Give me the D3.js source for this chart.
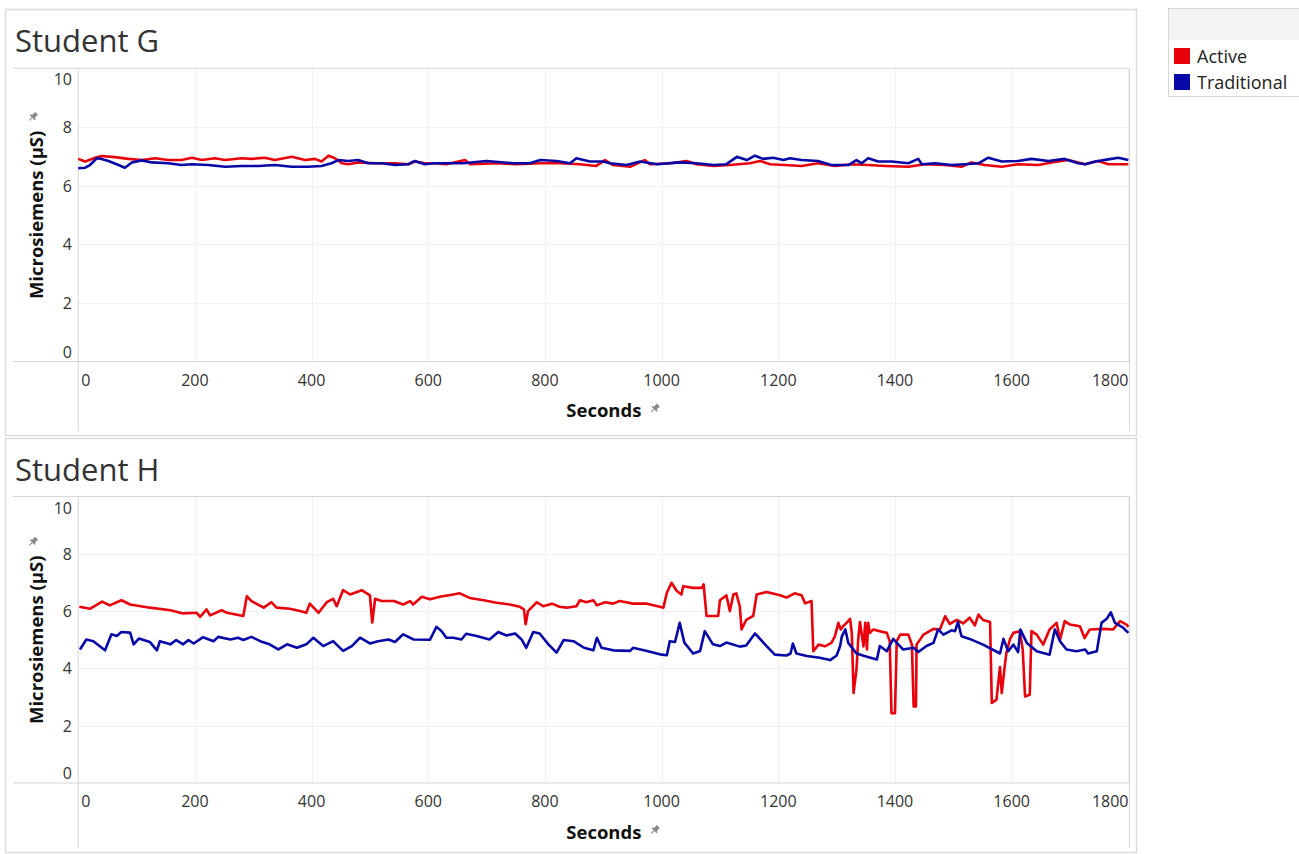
<!DOCTYPE html>
<html>
<head>
<meta charset="utf-8">
<title>Student G / Student H</title>
<script src="https://d3js.org/d3.v7.min.js"></script>
<style>
	*{ margin:0; padding:0; }
	body { background:#fff; width:1299px; height:854px; overflow:hidden; }
	svg text { font-family:"Open Sans","Noto Sans",sans-serif; }
</style>
</head>
<body>
<svg id="chart" width="1299" height="854"></svg>
<script>
// ---- data: [seconds, microsiemens] ----
var seriesNames = ["Active", "Traditional"];
var seriesColors = ["#e8000b", "#0808a8"];
var yTicks = [0, 2, 4, 6, 8, 10];
var xTicks = [0, 200, 400, 600, 800, 1000, 1200, 1400, 1600, 1800];

var studentG_active = [[0,6.91],[12,6.82],[29,6.95],[40,7.01],[63,6.97],[86,6.91],[109,6.87],[132,6.93],[154,6.87],[177,6.87],[195,6.95],[212,6.87],[234,6.93],[252,6.87],[280,6.93],[297,6.91],[320,6.95],[337,6.87],[366,6.98],[389,6.87],[406,6.91],[417,6.82],[429,7.02],[440,6.93],[452,6.76],[463,6.73],[480,6.79],[509,6.76],[543,6.76],[566,6.73],[577,6.82],[594,6.76],[611,6.76],[631,6.73],[663,6.87],[672,6.73],[717,6.76],[751,6.73],[792,6.76],[826,6.76],[860,6.73],[888,6.67],[903,6.87],[917,6.70],[946,6.64],[971,6.87],[980,6.73],[1015,6.76],[1043,6.84],[1060,6.73],[1089,6.67],[1117,6.70],[1151,6.76],[1169,6.84],[1186,6.73],[1211,6.70],[1240,6.67],[1268,6.76],[1297,6.67],[1326,6.73],[1354,6.70],[1383,6.67],[1423,6.64],[1451,6.73],[1486,6.70],[1514,6.64],[1531,6.79],[1554,6.70],[1583,6.64],[1611,6.73],[1646,6.70],[1668,6.79],[1697,6.87],[1726,6.73],[1748,6.84],[1766,6.73],[1800,6.73]];

var studentG_traditional = [[0,6.59],[12,6.61],[20,6.70],[32,6.93],[40,6.91],[52,6.84],[69,6.70],[80,6.61],[92,6.79],[109,6.86],[126,6.79],[154,6.76],[177,6.70],[195,6.73],[223,6.70],[252,6.64],[280,6.67],[309,6.67],[337,6.70],[366,6.64],[394,6.64],[417,6.67],[434,6.76],[446,6.87],[463,6.84],[480,6.87],[497,6.76],[520,6.76],[543,6.70],[566,6.73],[577,6.84],[594,6.73],[611,6.76],[660,6.76],[700,6.84],[746,6.76],[774,6.76],[792,6.87],[820,6.84],[843,6.76],[854,6.93],[877,6.82],[900,6.82],[912,6.76],[940,6.70],[963,6.82],[992,6.73],[1031,6.79],[1060,6.76],[1089,6.70],[1111,6.73],[1129,6.98],[1146,6.87],[1160,7.02],[1174,6.91],[1191,6.95],[1209,6.87],[1220,6.93],[1240,6.87],[1268,6.84],[1291,6.70],[1320,6.70],[1334,6.87],[1343,6.76],[1354,6.93],[1371,6.82],[1394,6.82],[1423,6.76],[1440,6.91],[1446,6.73],[1469,6.76],[1497,6.70],[1520,6.73],[1543,6.76],[1560,6.95],[1583,6.82],[1611,6.84],[1634,6.91],[1663,6.84],[1691,6.91],[1714,6.76],[1726,6.73],[1743,6.82],[1771,6.91],[1783,6.95],[1800,6.87]];

var studentH_active = [[2,6.15],[20,6.08],[41,6.33],[54,6.2],[74,6.38],[89,6.23],[123,6.12],[158,6.03],[180,5.92],[203,5.94],[209,5.8],[220,6.06],[226,5.85],[246,6.03],[255,5.94],[283,5.83],[289,6.52],[297,6.35],[318,6.12],[331,6.31],[340,6.12],[363,6.08],[380,6.0],[391,5.94],[397,6.26],[412,5.94],[426,6.31],[437,6.43],[443,6.17],[454,6.73],[466,6.58],[486,6.73],[500,6.55],[504,5.6],[509,6.43],[520,6.35],[541,6.35],[557,6.23],[569,6.35],[574,6.23],[589,6.5],[603,6.41],[620,6.5],[643,6.58],[654,6.62],[671,6.46],[695,6.38],[717,6.29],[740,6.23],[757,6.15],[764,6.06],[767,5.54],[771,6.0],[786,6.31],[797,6.17],[812,6.26],[825,6.15],[837,6.12],[854,6.17],[860,6.38],[871,6.31],[883,6.38],[889,6.2],[903,6.31],[917,6.26],[928,6.35],[951,6.26],[975,6.26],[997,6.15],[1003,6.12],[1009,6.64],[1017,6.99],[1026,6.7],[1034,6.58],[1037,6.87],[1054,6.81],[1069,6.81],[1072,6.93],[1077,5.83],[1088,5.83],[1097,5.83],[1100,6.38],[1111,6.55],[1117,6.0],[1123,6.58],[1128,6.62],[1134,6.17],[1137,5.36],[1145,5.69],[1157,5.83],[1163,6.58],[1180,6.67],[1203,6.55],[1214,6.47],[1228,6.62],[1240,6.55],[1246,6.27],[1257,6.35],[1260,4.60],[1269,4.83],[1280,4.77],[1291,4.89],[1297,5.12],[1303,5.59],[1307,5.36],[1311,5.47],[1317,5.59],[1323,5.73],[1326,5.24],[1329,3.14],[1334,3.96],[1337,5.01],[1340,5.62],[1346,4.77],[1349,5.59],[1352,4.66],[1354,5.59],[1357,5.24],[1363,5.36],[1374,5.30],[1386,5.24],[1391,4.95],[1394,2.44],[1400,2.44],[1403,4.95],[1409,5.18],[1423,5.18],[1429,4.83],[1432,2.67],[1436,2.67],[1437,4.83],[1449,5.18],[1466,5.38],[1477,5.36],[1486,5.82],[1494,5.55],[1506,5.69],[1517,5.57],[1528,5.77],[1537,5.50],[1543,5.88],[1551,5.69],[1563,5.62],[1566,2.79],[1574,2.91],[1580,4.05],[1583,3.14],[1588,4.05],[1591,4.54],[1597,5.01],[1603,5.24],[1614,5.30],[1619,4.66],[1623,3.02],[1631,3.08],[1634,5.30],[1643,5.18],[1654,4.83],[1665,5.36],[1677,5.59],[1683,5.01],[1691,5.65],[1700,5.53],[1717,5.47],[1725,5.06],[1734,5.36],[1757,5.38],[1774,5.36],[1786,5.65],[1797,5.53],[1800,5.45]];

var studentH_traditional = [[3,4.66],[14,5.01],[26,4.95],[46,4.63],[57,5.19],[66,5.13],[74,5.27],[89,5.25],[95,4.84],[104,5.04],[123,4.92],[135,4.63],[140,4.95],[158,4.84],[168,4.99],[180,4.84],[189,4.99],[198,4.87],[214,5.09],[232,4.95],[240,5.1],[261,5.01],[274,5.07],[283,4.99],[297,5.1],[312,4.95],[328,4.84],[343,4.66],[358,4.84],[375,4.72],[391,4.84],[403,5.07],[420,4.78],[437,4.95],[454,4.61],[469,4.78],[483,5.07],[500,4.87],[514,4.95],[532,5.01],[543,4.92],[557,5.19],[575,5.01],[603,5.0],[614,5.45],[623,5.3],[631,5.07],[643,5.07],[657,5.01],[665,5.21],[683,5.13],[705,5.01],[720,5.27],[734,5.15],[749,5.22],[760,5.01],[768,4.72],[780,5.27],[791,5.22],[806,4.84],[820,4.55],[832,4.99],[849,4.95],[867,4.72],[883,4.63],[889,5.07],[897,4.72],[917,4.63],[946,4.61],[951,4.72],[975,4.61],[997,4.49],[1009,4.46],[1014,4.95],[1023,4.92],[1031,5.59],[1039,4.9],[1054,4.52],[1066,4.61],[1074,5.3],[1088,4.84],[1100,4.78],[1111,4.9],[1134,4.76],[1145,4.8],[1160,5.22],[1180,4.78],[1194,4.48],[1214,4.45],[1221,4.52],[1225,4.87],[1231,4.52],[1249,4.43],[1271,4.37],[1289,4.29],[1300,4.45],[1306,4.78],[1309,5.12],[1315,5.36],[1320,4.89],[1334,4.52],[1352,4.41],[1369,4.31],[1374,4.78],[1386,4.60],[1397,5.03],[1406,4.83],[1414,4.66],[1432,4.72],[1440,4.57],[1454,4.78],[1466,4.89],[1474,5.36],[1483,5.18],[1497,5.33],[1503,5.30],[1508,5.62],[1514,5.12],[1528,5.03],[1551,4.83],[1580,4.52],[1586,5.03],[1594,4.60],[1603,4.83],[1611,4.57],[1615,5.36],[1626,4.89],[1643,4.60],[1665,4.48],[1674,5.36],[1683,4.95],[1694,4.66],[1711,4.60],[1726,4.66],[1731,4.52],[1746,4.60],[1754,5.59],[1763,5.73],[1770,5.96],[1777,5.59],[1791,5.42],[1800,5.24]];

var panels = [
	{ title:"Student G", top:9, bottom:435, plotTop:68.3, plotBottom:361.5, series:[studentG_active, studentG_traditional] },
	{ title:"Student H", top:438, bottom:852, plotTop:496.5, plotBottom:783, series:[studentH_active, studentH_traditional] }
];

var svg = d3.select("#chart");
var plotLeft = 78.2, plotRight = 1129.5;
var x = d3.scaleLinear().domain([0, 1802]).range([plotLeft, plotRight]);

// small gray pushpin like the one Tableau puts next to pinned axes
function pin(g, cx, cy) {
	var p = g.append("g").attr("transform", "translate(" + cx + "," + cy + ") rotate(45)");
	p.append("rect").attr("x", -2).attr("y", -5).attr("width", 4).attr("height", 5).attr("fill", "#8a8a8a");
	p.append("rect").attr("x", -3.5).attr("y", -0.5).attr("width", 7).attr("height", 1.6).attr("fill", "#8a8a8a");
	p.append("line").attr("x1", 0).attr("y1", 1).attr("x2", 0).attr("y2", 5).attr("stroke", "#8a8a8a").attr("stroke-width", 1);
}

panels.forEach(function(pn) {
	var g = svg.append("g");
	var y = d3.scaleLinear().domain([0, 10]).range([pn.plotBottom, pn.plotTop]);

	// panel frame
	g.append("rect").attr("x", 5.5).attr("y", pn.top + 0.5).attr("width", 1131).attr("height", pn.bottom - pn.top)
		.attr("fill", "none").attr("stroke", "#dcdcdc").attr("stroke-width", 1.5);

	g.append("text").attr("x", 15).attr("y", pn.top + 43).attr("font-size", 31).attr("fill", "#333")
		.text(pn.title);

	// gridlines
	g.append("g").selectAll("line").data(yTicks.filter(function(d){ return d > 0 && d < 10; }))
		.enter().append("line")
		.attr("x1", plotLeft).attr("x2", plotRight)
		.attr("y1", function(d){ return Math.round(y(d)) + 0.5; }).attr("y2", function(d){ return Math.round(y(d)) + 0.5; })
		.attr("stroke", "#f0f0f0");
	g.append("g").selectAll("line").data(xTicks.filter(function(d){ return d > 0; }))
		.enter().append("line")
		.attr("x1", function(d){ return Math.round(x(d)) + 0.5; }).attr("x2", function(d){ return Math.round(x(d)) + 0.5; })
		.attr("y1", pn.plotTop).attr("y2", pn.plotBottom)
		.attr("stroke", "#f0f0f0");

	// frame lines of the pane
	var lc = "#d6d6d6";
	g.append("line").attr("x1", 13).attr("x2", plotRight).attr("y1", pn.plotTop).attr("y2", pn.plotTop).attr("stroke", lc);
	g.append("line").attr("x1", 13).attr("x2", plotRight).attr("y1", pn.plotBottom).attr("y2", pn.plotBottom).attr("stroke", lc);
	g.append("line").attr("x1", plotLeft).attr("x2", plotLeft).attr("y1", pn.plotTop).attr("y2", pn.bottom - 4).attr("stroke", lc);
	g.append("line").attr("x1", plotRight).attr("x2", plotRight).attr("y1", pn.plotTop).attr("y2", pn.bottom - 4).attr("stroke", lc);

	// y tick labels (edge labels pushed inside the pane)
	g.append("g").selectAll("text").data(yTicks).enter().append("text")
		.attr("x", 72).attr("text-anchor", "end").attr("dominant-baseline", "central")
		.attr("y", function(d){ return Math.max(pn.plotTop + 11, Math.min(pn.plotBottom - 10, y(d))); })
		.attr("font-size", 16).attr("fill", "#333")
		.text(function(d){ return d; });

	// x tick labels
	g.append("g").selectAll("text").data(xTicks).enter().append("text")
		.attr("y", pn.plotBottom + 18).attr("dominant-baseline", "central")
		.attr("x", function(d, i){ return i === 0 ? x(d) + 3 : (i === xTicks.length - 1 ? plotRight - 1 : x(d)); })
		.attr("text-anchor", function(d, i){ return i === 0 ? "start" : (i === xTicks.length - 1 ? "end" : "middle"); })
		.attr("font-size", 16).attr("fill", "#333")
		.text(function(d){ return d; });

	// axis titles
	var xMid = (plotLeft + plotRight) / 2;
	g.append("text").attr("x", xMid).attr("y", pn.plotBottom + 48).attr("text-anchor", "middle")
		.attr("dominant-baseline", "central").attr("font-size", 18.5).attr("font-weight", "bold").attr("fill", "#111")
		.text("Seconds");
	pin(g, xMid + 51, pn.plotBottom + 47);

	var yMid = (pn.plotTop + pn.plotBottom) / 2;
	g.append("text").attr("transform", "translate(35," + yMid + ") rotate(-90)").attr("text-anchor", "middle")
		.attr("dominant-baseline", "central").attr("font-size", 18.5).attr("font-weight", "bold").attr("fill", "#111")
		.text("Microsiemens (µS)");
	pin(g, 33, yMid - 98);

	// lines
	var line = d3.line().x(function(d){ return x(d[0]); }).y(function(d){ return y(d[1]); });
	pn.series.forEach(function(s, i) {
		g.append("path").datum(s).attr("d", line)
			.attr("fill", "none").attr("stroke", seriesColors[i]).attr("stroke-width", 2.6)
			.attr("stroke-linejoin", "round");
	});
});

// legend
var lg = svg.append("g");
lg.append("rect").attr("x", 1168.5).attr("y", 8.5).attr("width", 140).attr("height", 88)
	.attr("fill", "#fff").attr("stroke", "#d6d6d6");
lg.append("rect").attr("x", 1169).attr("y", 9).attr("width", 130).attr("height", 31).attr("fill", "#f3f3f3");
seriesNames.forEach(function(name, i) {
	lg.append("rect").attr("x", 1174).attr("y", 48 + i * 26).attr("width", 16).attr("height", 16).attr("fill", seriesColors[i]);
	lg.append("text").attr("x", 1197).attr("y", 56 + i * 26).attr("dominant-baseline", "central")
		.attr("font-size", 18).attr("fill", "#222").text(name);
});
</script>
</body>
</html>
